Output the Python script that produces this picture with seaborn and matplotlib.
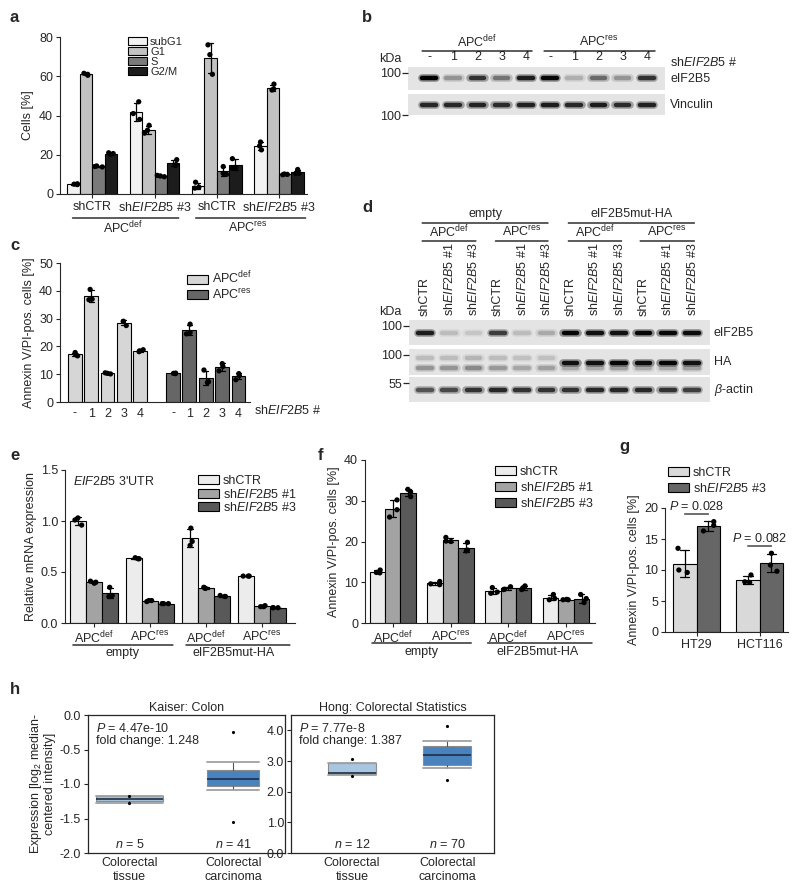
import numpy as np
import pandas as pd
import seaborn as sns
import matplotlib.pyplot as plt
import matplotlib.patches as mpatches

sns.set_style("ticks")
plt.rcParams['font.family'] = ['Liberation Sans', 'DejaVu Sans']
plt.rcParams['mathtext.fontset'] = 'custom'
plt.rcParams['mathtext.rm'] = 'Liberation Sans'
plt.rcParams['mathtext.it'] = 'Liberation Sans:italic'
plt.rcParams['axes.unicode_minus'] = False
plt.rcParams['font.size'] = 9
plt.rcParams['axes.linewidth'] = 0.8

FS = 9
DEF = 'APC$^{\\mathrm{def}}$'
RES = 'APC$^{\\mathrm{res}}$'
SH1 = 'sh$\\mathit{EIF2B5}$ #1'
SH3 = 'sh$\\mathit{EIF2B5}$ #3'

# ---- a: cell cycle (3 replicates per bar)
a_conds = ['shCTR def', 'sh3 def', 'shCTR res', 'sh3 res']
a_phases = ['subG1', 'G1', 'S', 'G2/M']
a_subG1 = [[4.8, 5.0, 5.2], [47, 38, 41], [6.0, 3.0, 3.5], [26.5, 22.5, 24.5]]
a_G1 = [[60.5, 61.0, 61.5], [35, 31, 32.5], [76, 61, 71], [56, 53, 53.5]]
a_S = [[13.8, 14.0, 14.3], [9.5, 8.8, 9.2], [14, 10, 10.5], [10, 9.8, 10.2]]
a_G2M = [[20.2, 20.6, 21.0], [17.5, 14.5, 15], [18, 13, 13.5], [12.5, 10.5, 10.5]]
a_colors = ['#f2f2f2', '#c2c2c2', '#7a7a7a', '#1c1c1c']

# ---- b: western blot band intensities (0..1)
b_lanes = ['-', '1', '2', '3', '4', '-', '1', '2', '3', '4']
b_eif2b5 = [1.0, 0.3, 0.75, 0.45, 0.85, 0.95, 0.18, 0.5, 0.3, 0.75]
b_vinculin = [0.8, 0.8, 0.82, 0.78, 0.82, 0.85, 0.8, 0.85, 0.78, 0.82]

# ---- c: annexin V/PI, shEIF2B5 # -,1,2,3,4
c_lanes = ['-', '1', '2', '3', '4']
c_def = [[17.8, 17.0, 16.6], [40.5, 37.0, 36.8], [10.3, 10.5, 10.1], [29.0, 27.5, 29.0], [18.8, 18.4, 18.1]]
c_res = [[10.3, 10.2, 10.4], [28.0, 24.5, 25.0], [11.5, 7.0, 7.3], [13.8, 12.8, 11.2], [10.2, 8.0, 9.5]]
c_colors = ['#d6d6d6', '#666666']

# ---- d: western blot, 12 lanes
d_lanes = ['shCTR', SH1, SH3] * 4
d_eif2b5 = [0.85, 0.12, 0.08, 0.7, 0.12, 0.2, 0.95, 0.9, 0.9, 0.95, 0.95, 0.92]
d_ha = [0, 0, 0, 0, 0, 0, 0.9, 0.9, 0.95, 0.92, 0.95, 0.9]
d_ha_up = [0.12, 0.12, 0.15, 0.12, 0.1, 0.1, 0, 0, 0, 0, 0, 0]
d_ha_low = [0.3, 0.3, 0.35, 0.28, 0.22, 0.25, 0.2, 0.2, 0.25, 0.2, 0.2, 0.25]
d_actin = [0.6, 0.65, 0.75, 0.8, 0.75, 0.75, 0.75, 0.8, 0.8, 0.8, 0.75, 0.7]

# ---- e / f: four groups x three shRNAs
ef_groups = ['def empty', 'res empty', 'def mut', 'res mut']
ef_ticks = [DEF, RES, DEF, RES]
ef_sh = ['shCTR', SH1, SH3]
ef_colors = ['#ececec', '#a3a3a3', '#595959']
e_shCTR = [[1.03, 0.96, 1.01], [0.63, 0.64, 0.63], [0.93, 0.76, 0.80], [0.46, 0.46, 0.46]]
e_sh1 = [[0.41, 0.40, 0.39], [0.22, 0.21, 0.22], [0.34, 0.35, 0.34], [0.16, 0.17, 0.16]]
e_sh3 = [[0.35, 0.27, 0.26], [0.19, 0.19, 0.19], [0.27, 0.26, 0.26], [0.15, 0.15, 0.15]]
f_shCTR = [[12.3, 13.0, 12.4], [10.2, 9.4, 9.6], [8.7, 7.3, 7.6], [7.0, 5.7, 6.0]]
f_sh1 = [[30.2, 26.0, 27.8], [21.0, 20.0, 20.1], [8.9, 8.2, 8.3], [5.7, 5.8, 5.7]]
f_sh3 = [[32.8, 31.0, 32.2], [19.8, 17.7, 17.9], [9.1, 8.2, 8.6], [7.0, 5.0, 6.0]]

# ---- g: cell lines
g_cells = ['HT29', 'HCT116']
g_sh = ['shCTR', SH3]
g_shCTR = [[13.5, 10.0, 9.6], [9.2, 8.0, 8.1]]
g_sh3 = [[17.8, 16.3, 17.2], [12.7, 10.8, 9.8]]
g_pvals = ['0.028', '0.082']
g_colors = ['#d9d9d9', '#666666']

# ---- h: Oncomine box statistics
h_labels = ['Colorectal\ntissue', 'Colorectal\ncarcinoma']
h_n = [[5, 41], [12, 70]]
h_kaiser = [dict(med=-1.22, q1=-1.24, q3=-1.17, whislo=-1.27, whishi=-1.17, fliers=[-1.17, -1.28]),
            dict(med=-0.93, q1=-1.03, q3=-0.80, whislo=-1.09, whishi=-0.68, fliers=[-0.24, -1.55])]
h_hong = [dict(med=2.62, q1=2.56, q3=2.94, whislo=2.54, whishi=2.94, fliers=[3.07, 2.52]),
          dict(med=3.20, q1=2.88, q3=3.49, whislo=2.78, whishi=3.64, fliers=[4.14, 2.39])]
h_box_colors = ['#a8c6e0', '#4a82bd']

W, H = 800, 890
fig = plt.figure(figsize=(W / 100, H / 100), dpi=100)
np.random.seed(4)


def px_ax(x0, y0, x1, y1):
    return fig.add_axes([x0 / W, 1 - y1 / H, (x1 - x0) / W, (y1 - y0) / H])


def ftext(x, y, s, **kw):
    fig.text(x / W, 1 - y / H, s, **kw)


def hline(ax, x0, x1, y, lw=0.9):
    ax.annotate('', xy=(x1, H - y), xytext=(x0, H - y),
                xycoords=('data', 'figure pixels'), textcoords=('data', 'figure pixels'),
                arrowprops=dict(arrowstyle='-', lw=lw, color='k', shrinkA=0, shrinkB=0),
                annotation_clip=False)


def dtext(ax, x, y, s, **kw):
    ax.annotate(s, xy=(x, H - y), xycoords=('data', 'figure pixels'),
                ha='center', va='center', annotation_clip=False, **kw)


def long_df(groups, hues, series):
    rows = []
    for h, vals in zip(hues, series):
        for g, reps in zip(groups, vals):
            for v in reps:
                rows.append((g, h, v))
    return pd.DataFrame(rows, columns=['grp', 'hue', 'val'])


def bars(ax, df, order, hue_order, colors, width, dodge=True, jitter=0.04):
    pal = dict(zip(hue_order, colors))
    sns.barplot(data=df, x='grp', y='val', hue='hue', order=order, hue_order=hue_order,
                palette=pal, errorbar='sd', capsize=0.3, width=width, dodge=dodge,
                saturation=1, edgecolor='k', linewidth=0.8, legend=False,
                err_kws={'color': 'k', 'linewidth': 0.9}, ax=ax)
    sns.stripplot(data=df, x='grp', y='val', hue='hue', order=order, hue_order=hue_order,
                  palette=dict(zip(hue_order, ['k'] * len(hue_order))), dodge=dodge,
                  jitter=jitter, size=3.8, legend=False, ax=ax)
    sns.despine(ax=ax)
    ax.set_xlabel('')
    ax.set_ylabel('')
    ax.tick_params(length=3, width=0.8, pad=2)
    return [mpatches.Patch(facecolor=c, edgecolor='k', lw=0.8, label=l) for c, l in zip(colors, hue_order)]


def legend(ax, handles, x, y, fs=FS, sp=0.1):
    ax.legend(handles=handles, loc='upper left', bbox_to_anchor=(x / W, 1 - y / H),
              bbox_transform=fig.transFigure, frameon=False, fontsize=fs,
              handlelength=1.7, handleheight=0.75, labelspacing=sp, handletextpad=0.3,
              borderpad=0, borderaxespad=0)


def blot(ax, vals, x0, x1, y=0.0, tick=None):
    ax.set_facecolor('#e4e4e4')
    for i, v in enumerate(vals):
        if v > 0:
            g = 0.88 - 0.86 * v
            ax.plot([i - 0.3, i + 0.3], [y, y], color=str(g), lw=5.5, alpha=0.4,
                    solid_capstyle='round')
            ax.plot([i - 0.28, i + 0.28], [y, y], color=str(max(g - 0.04, 0)), lw=3.2,
                    solid_capstyle='round')
    ax.set_xlim(x0, x1)
    ax.set_ylim(-1, 1)
    for s in ax.spines.values():
        s.set_visible(False)
    ax.set_xticks([])
    if tick is None:
        ax.set_yticks([])
    else:
        ax.set_yticks([tick[0]])
        ax.set_yticklabels([tick[1]], fontsize=FS)
        ax.tick_params(axis='y', length=4, width=0.9, pad=1)


# ================= a
ax = px_ax(60, 37, 307, 194)
df = long_df(a_conds, a_phases, [a_subG1, a_G1, a_S, a_G2M])
hd = bars(ax, df, a_conds, a_phases, a_colors, 0.8, jitter=0.25)
ax.set_ylim(0, 80)
ax.set_yticks([0, 20, 40, 60, 80])
ax.set_xlim(-0.52, 3.45)
ax.set_xticks(range(4))
ax.set_xticklabels(['shCTR', SH3, 'shCTR', SH3])
ax.set_ylabel('Cells [%]', labelpad=4)
legend(ax, hd, 128, 37, fs=8, sp=0.0)
hline(ax, -0.32, 1.39, 218)
hline(ax, 1.66, 3.43, 218)
dtext(ax, 0.5, 228, DEF)
dtext(ax, 2.5, 228, RES)

# ================= b
axb1 = px_ax(408, 67, 665, 90)
blot(axb1, b_eif2b5, -0.87, 9.75, 0.05, (0.48, '100'))
axb2 = px_ax(408, 94, 665, 115)
blot(axb2, b_vinculin, -0.87, 9.75, 0.0, (-1, '100'))
axb1.xaxis.tick_top()
axb1.set_xticks(range(10))
axb1.set_xticklabels(b_lanes, fontsize=FS)
axb1.tick_params(axis='x', length=0, pad=3)
axb1.text(1.02, 0.5, 'eIF2B5', transform=axb1.transAxes, va='center', fontsize=FS)
axb2.text(1.02, 0.5, 'Vinculin', transform=axb2.transAxes, va='center', fontsize=FS)
ftext(670, 62, 'sh$\\mathit{EIF2B5}$ #', va='center', fontsize=FS)
ftext(401, 59, 'kDa', ha='right', va='center', fontsize=FS)
hline(axb1, -0.29, 4.26, 51)
hline(axb1, 4.75, 9.34, 51)
dtext(axb1, 2, 42, DEF, fontsize=FS)
dtext(axb1, 7, 42, RES, fontsize=FS)

# ================= c
ax = px_ax(60, 263, 250, 402)
c_order = ['d' + l for l in c_lanes] + ['gap'] + ['r' + l for l in c_lanes]
rows = [('d' + l, DEF, v) for l, reps in zip(c_lanes, c_def) for v in reps]
rows += [('r' + l, RES, v) for l, reps in zip(c_lanes, c_res) for v in reps]
df = pd.DataFrame(rows, columns=['grp', 'hue', 'val'])
hd = bars(ax, df, c_order, [DEF, RES], c_colors, 0.85, dodge=False, jitter=0.22)
ax.set_ylim(0, 50)
ax.set_xlim(-0.9, 10.7)
ax.set_xticks(range(11))
ax.set_xticklabels(c_lanes + [''] + c_lanes)
ax.tick_params(axis='x', length=0, pad=4)
ax.set_ylabel('Annexin V/PI-pos. cells [%]', labelpad=3)
legend(ax, hd, 187, 270, sp=0.05)
ftext(254, 411, 'sh$\\mathit{EIF2B5}$ #', va='center', fontsize=FS)

# ================= d
d_x0, d_x1 = -0.66, 11.74
axd1 = px_ax(409, 320, 710, 345)
blot(axd1, d_eif2b5, d_x0, d_x1, 0.0, (0.52, '100'))
axd2 = px_ax(409, 349, 710, 375)
blot(axd2, d_ha_low, d_x0, d_x1, -0.48)
blot(axd2, d_ha_up, d_x0, d_x1, 0.3)
blot(axd2, d_ha, d_x0, d_x1, -0.04, (0.54, '100'))
axd3 = px_ax(409, 377, 710, 402)
blot(axd3, d_actin, d_x0, d_x1, 0.0, (0.52, '55'))
axd1.xaxis.tick_top()
axd1.set_xticks(range(12))
axd1.set_xticklabels(d_lanes, rotation=90, fontsize=FS)
axd1.tick_params(axis='x', length=0, pad=3)
for a_, lab in [(axd1, 'eIF2B5'), (axd2, 'HA'), (axd3, '$\\beta$-actin')]:
    a_.text(1.012, 0.5, lab, transform=a_.transAxes, va='center', fontsize=FS)
ftext(401, 312, 'kDa', ha='right', va='center', fontsize=FS)
hline(axd1, -0.12, 5.07, 223)
hline(axd1, 5.9, 11.1, 223)
dtext(axd1, 2.5, 214, 'empty', fontsize=FS)
dtext(axd1, 8.5, 214, 'eIF2B5mut-HA', fontsize=FS)
for x0, x1, lab in [(-0.12, 2.1, DEF), (2.9, 5.07, RES), (5.9, 8.1, DEF), (8.86, 11.1, RES)]:
    hline(axd1, x0, x1, 241)
    dtext(axd1, (x0 + x1) / 2, 232, lab, fontsize=FS)

# ================= e
ax = px_ax(65, 470, 295, 623)
df = long_df(ef_groups, ef_sh, [e_shCTR, e_sh1, e_sh3])
hd = bars(ax, df, ef_groups, ef_sh, ef_colors, 0.85, jitter=0.25)
ax.set_ylim(0, 1.5)
ax.set_yticks([0, 0.5, 1.0, 1.5])
ax.set_yticklabels(['0.0', '0.5', '1.0', '1.5'])
ax.set_xlim(-0.52, 3.59)
ax.set_xticks(range(4))
ax.set_xticklabels(ef_ticks)
ax.set_ylabel('Relative mRNA expression', labelpad=3)
legend(ax, hd, 198, 475, sp=0.05)
ftext(73, 481, '$\\mathit{EIF2B5}$ 3\'UTR', va='center', fontsize=FS)
hline(ax, -0.38, 1.41, 645)
hline(ax, 1.64, 3.5, 645)
dtext(ax, 0.5, 653, 'empty')
dtext(ax, 2.5, 653, 'eIF2B5mut-HA')

# ================= f
ax = px_ax(365, 460, 595, 623)
df = long_df(ef_groups, ef_sh, [f_shCTR, f_sh1, f_sh3])
hd = bars(ax, df, ef_groups, ef_sh, ef_colors, 0.8, jitter=0.25)
ax.set_ylim(0, 40)
ax.set_yticks([0, 10, 20, 30, 40])
ax.set_xlim(-0.48, 3.5)
ax.set_xticks(range(4))
ax.set_xticklabels(ef_ticks)
ax.set_ylabel('Annexin V/PI-pos. cells [%]', labelpad=3)
legend(ax, hd, 495, 466, sp=0.25)
hline(ax, -0.36, 1.36, 643)
hline(ax, 1.64, 3.45, 643)
dtext(ax, 0.5, 652, 'empty')
dtext(ax, 2.5, 652, 'eIF2B5mut-HA')

# ================= g
ax = px_ax(665, 508, 788, 632)
df = long_df(g_cells, g_sh, [g_shCTR, g_sh3])
hd = bars(ax, df, g_cells, g_sh, g_colors, 0.75, jitter=0.22)
ax.set_ylim(0, 20)
ax.set_yticks([0, 5, 10, 15, 20])
ax.set_xlim(-0.5, 1.45)
ax.set_ylabel('Annexin V/PI-pos. cells [%]', labelpad=3)
legend(ax, hd, 668, 467, sp=0.25)
for i, (p, y) in enumerate(zip(g_pvals, [507, 539])):
    dtext(ax, i, y, '$\\mathit{P}$ = ' + p, fontsize=FS)
    hline(ax, i - 0.19, i + 0.19, y + 7, lw=0.8)

# ================= h
for k, (box, stats, title, ylim, yt, n) in enumerate([
        ((88, 715, 285, 853), h_kaiser, 'Kaiser: Colon', (-2.0, 0.0),
         [-2.0, -1.5, -1.0, -0.5, 0.0], h_n[0]),
        ((291, 715, 494, 853), h_hong, 'Hong: Colorectal Statistics', (0, 4.5),
         [0.0, 1.0, 2.0, 3.0, 4.0], h_n[1])]):
    ax = px_ax(*box)
    wid = [0.65, 0.5] if k == 0 else [0.5, 0.5]
    res = ax.bxp(stats, positions=[0, 1], widths=wid, capwidths=wid, patch_artist=True,
                 boxprops=dict(edgecolor='#8c8c8c', linewidth=0.8),
                 medianprops=dict(color='#1b2f45', linewidth=1.2),
                 whiskerprops=dict(color='#555555', linewidth=0.8),
                 capprops=dict(color='#a0a0a0', linewidth=1.3),
                 flierprops=dict(marker='.', markersize=2.5, markerfacecolor='k',
                                 markeredgecolor='k'))
    for patch, c in zip(res['boxes'], h_box_colors):
        patch.set_facecolor(c)
    ax.set_ylim(*ylim)
    ax.set_yticks(yt)
    ax.set_yticklabels(['%.1f' % v for v in yt])
    ax.set_xlim((-0.4, 1.5) if k == 0 else (-0.64, 1.49))
    ax.set_xticks([0, 1])
    ax.set_xticklabels(h_labels)
    ax.tick_params(axis='x', length=0, pad=3)
    ax.tick_params(axis='y', length=3, width=0.8, pad=2)
    ax.set_title(title, fontsize=FS, pad=3)
    for sp in ax.spines.values():
        sp.set_linewidth(0.9)
    for i, nn in enumerate(n):
        ax.text(i, 0.06, '$\\mathit{n}$ = %d' % nn, transform=ax.get_xaxis_transform(),
                ha='center', va='center', fontsize=FS)
    ax.text(0.04, 0.9, '$\\mathit{P}$ = ' + ('4.47e-10' if k == 0 else '7.77e-8'),
            transform=ax.transAxes, va='center', fontsize=FS)
    ax.text(0.04, 0.81, 'fold change: ' + ('1.248' if k == 0 else '1.387'),
            transform=ax.transAxes, va='center', fontsize=FS)
    if k == 0:
        ax.set_ylabel('Expression [log$_2$ median-\ncentered intensity]', labelpad=3,
                      linespacing=1.0)

# panel letters
for s, x, y in [('a', 10, 17), ('b', 362, 17), ('c', 10, 246), ('d', 362, 207),
                ('e', 10, 456), ('f', 318, 456), ('g', 619, 446), ('h', 10, 690)]:
    ftext(x, y, s, fontsize=12, fontweight='bold', va='center')

fig.savefig('out.png', dpi=100)
